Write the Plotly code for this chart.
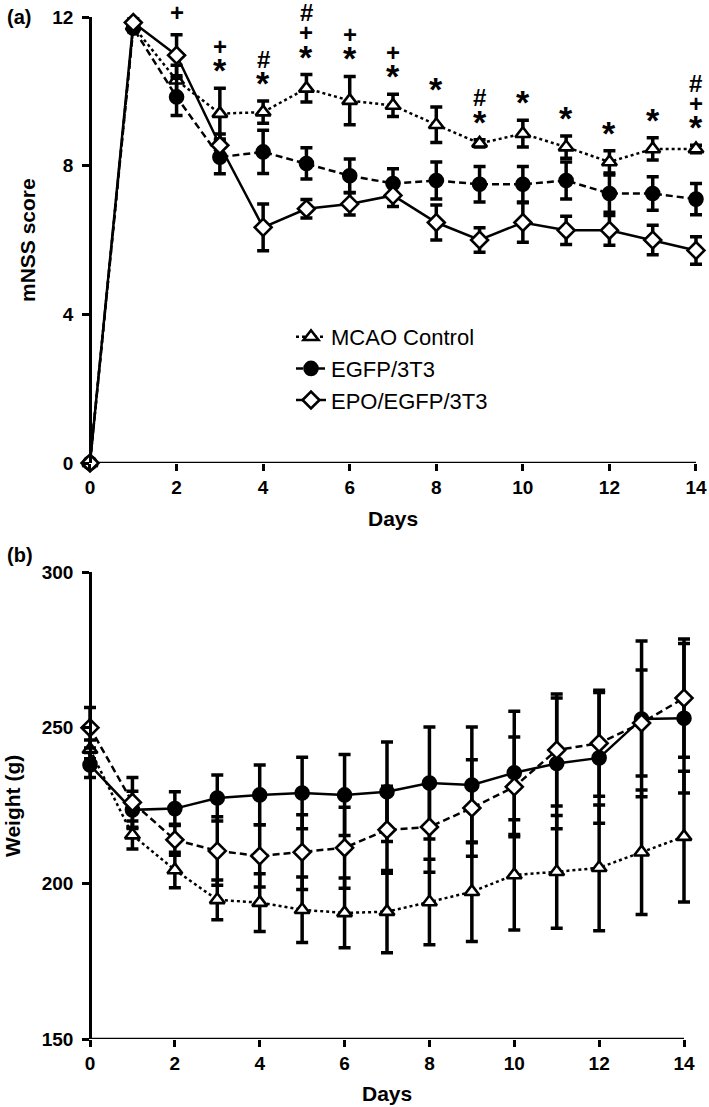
import plotly.graph_objects as go

# ---------------- data ----------------
days = list(range(15))

# Panel (a): mNSS score
mcao_a = [0, 11.75, 10.3, 9.4, 9.44, 10.08, 9.75, 9.62, 9.1, 8.6, 8.86, 8.5, 8.1, 8.45, 8.45]
mcao_a_err = [0, 0.1, 0.4, 0.68, 0.3, 0.37, 0.65, 0.3, 0.48, 0.1, 0.36, 0.3, 0.3, 0.3, 0.1]
egfp_a = [0, 11.7, 9.85, 8.23, 8.37, 8.06, 7.73, 7.52, 7.6, 7.5, 7.5, 7.6, 7.25, 7.25, 7.1]
egfp_a_err = [0, 0.1, 0.5, 0.45, 0.58, 0.42, 0.45, 0.4, 0.5, 0.48, 0.48, 0.5, 0.5, 0.45, 0.42]
epo_a = [0, 11.85, 10.97, 8.55, 6.34, 6.84, 6.97, 7.2, 6.47, 6.0, 6.47, 6.26, 6.26, 6.0, 5.72]
epo_a_err = [0, 0.1, 0.55, 0.3, 0.63, 0.25, 0.3, 0.3, 0.47, 0.33, 0.53, 0.38, 0.4, 0.4, 0.37]

# significance marks (panel a)
star_days = [3, 4, 5, 6, 7, 8, 9, 10, 11, 12, 13, 14]
plus_days = [2, 3, 5, 6, 7, 14]
hash_days = [4, 5, 9, 14]

# Panel (b): weight (g)
mcao_b = [243, 215.5, 204.3, 194.7, 193.8, 191.5, 190.5, 190.9, 194, 197.3, 202.7, 203.7, 205, 210, 215]
mcao_b_err = [3, 4.5, 5.7, 6.4, 9.3, 10.5, 11.2, 13.2, 13.7, 16, 17.7, 18.1, 20.2, 20, 21]
egfp_b = [238, 223.6, 224, 227.4, 228.4, 229, 228.4, 229.4, 232.2, 231.6, 235.5, 238.5, 240.3, 252.8, 253]
egfp_b_err = [4, 6, 5.4, 7.4, 9.6, 11.5, 13, 16, 18, 18.6, 19.8, 21, 21, 25, 24]
epo_b = [250, 226, 214, 210.4, 208.8, 210, 211.4, 217.2, 218.1, 224.2, 231, 242.8, 245, 251.5, 259.5]
epo_b_err = [6.5, 8, 5, 11, 10, 12, 13, 14, 14.5, 15.5, 16, 18, 17, 17, 19]

names = ["MCAO Control", "EGFP/3T3", "EPO/EGFP/3T3"]
x_ticks = [0, 2, 4, 6, 8, 10, 12, 14]
x_min, x_max = 0, 14
y_range_a = [0, 12]
y_range_b = [150, 300]
y_ticks_a = [0, 4, 8, 12]
y_ticks_b = [150, 200, 250, 300]

# ---------------- figure ----------------
W, H = 709, 1107
FONT = "Liberation Sans, Arial, Helvetica, sans-serif"
PAD = 0.25  # extra data room at both x ends so end error bars are not clipped
fig = go.Figure()


def add_series(y, err, name, symbol, fill, dash, xa, ya, showlegend):
    fig.add_trace(go.Scatter(
        x=days, y=y, name=name, mode="lines+markers",
        xaxis=xa, yaxis=ya, showlegend=showlegend, cliponaxis=False,
        line=dict(color="black", width=2.5, dash=dash),
        marker=dict(symbol=symbol, size=13, color=fill,
                    line=dict(color="black", width=2.6)),
        error_y=dict(type="data", array=err, visible=True, color="black",
                     thickness=3.5, width=6),
    ))


# panel a
add_series(mcao_a, mcao_a_err, names[0], "triangle-up", "white", "dot", "x", "y", True)
add_series(egfp_a, egfp_a_err, names[1], "circle", "black", "7px,4px", "x", "y", True)
add_series(epo_a, epo_a_err, names[2], "diamond", "white", "solid", "x", "y", True)
# panel b
add_series(mcao_b, mcao_b_err, names[0], "triangle-up", "white", "dot", "x2", "y2", False)
add_series(egfp_b, egfp_b_err, names[1], "circle", "black", "solid", "x2", "y2", False)
add_series(epo_b, epo_b_err, names[2], "diamond", "white", "7px,4px", "x2", "y2", False)


def px_x(p):
    return p / W


def px_y(p):
    return 1 - p / H


def x_domain(left_px, right_px):
    per = (right_px - left_px) / (x_max - x_min)
    return [px_x(left_px - PAD * per), px_x(right_px + PAD * per)]


tick_font = dict(family=FONT, size=19, color="black", weight="bold")
axis_common = dict(
    ticks="outside", ticklen=7, tickwidth=2.5, tickcolor="black",
    showgrid=False, zeroline=False, fixedrange=True, automargin=False,
    tickfont=tick_font,
)

fig.update_layout(
    width=W, height=H,
    margin=dict(l=0, r=0, t=0, b=0, autoexpand=False),
    paper_bgcolor="white", plot_bgcolor="white",
    xaxis=dict(domain=x_domain(90, 696), range=[x_min - PAD, x_max + PAD], anchor="y",
               tickvals=x_ticks, showline=False, **axis_common),
    yaxis=dict(domain=[px_y(463), px_y(17)], range=y_range_a, anchor="free",
               position=px_x(90), tickvals=y_ticks_a, ticklabelstandoff=5,
               showline=True, linecolor="black", linewidth=2.5, **axis_common),
    xaxis2=dict(domain=x_domain(90, 684), range=[x_min - PAD, x_max + PAD], anchor="y2",
                tickvals=x_ticks, showline=False, **axis_common),
    yaxis2=dict(domain=[px_y(1039), px_y(572)], range=y_range_b, anchor="free",
                position=px_x(90), tickvals=y_ticks_b, ticklabelstandoff=5,
                showline=True, linecolor="black", linewidth=2.5, **axis_common),
    legend=dict(x=px_x(291), y=px_y(316), xanchor="left", yanchor="top",
                font=dict(family=FONT, size=22, color="black"),
                bgcolor="rgba(0,0,0,0)", tracegroupgap=0, itemwidth=30),
    showlegend=True,
    shapes=[
        dict(type="line", xref="x", yref="y", x0=x_min, x1=x_max,
             y0=y_range_a[0], y1=y_range_a[0], line=dict(color="black", width=2.5), layer="below"),
        dict(type="line", xref="x2", yref="y2", x0=x_min, x1=x_max,
             y0=y_range_b[0], y1=y_range_b[0], line=dict(color="black", width=2.5), layer="below"),
    ],
)

annotations = []


def paper_text(text, x, y, size, angle=0, xanchor="center"):
    annotations.append(dict(
        text=text, x=px_x(x), y=px_y(y), xref="paper", yref="paper",
        showarrow=False, textangle=angle, xanchor=xanchor, yanchor="middle",
        font=dict(family=FONT, size=size, color="black"),
    ))


paper_text("<b>(a)</b>", 5, 17, 20, xanchor="left")
paper_text("<b>(b)</b>", 5, 555, 20, xanchor="left")
paper_text("<b>mNSS score</b>", 27, 240, 21, angle=-90)
paper_text("<b>Weight (g)</b>", 12, 806, 21, angle=-90)
paper_text("<b>Days</b>", 393, 518, 21)
paper_text("<b>Days</b>", 387, 1093, 21)

# significance marks stacked above the highest error bar of each day
for d in days:
    syms = []
    if d in star_days:
        syms.append("*")
    if d in plus_days:
        syms.append("+")
    if d in hash_days:
        syms.append("#")
    if not syms:
        continue
    top = max(mcao_a[d] + mcao_a_err[d], egfp_a[d] + egfp_a_err[d], epo_a[d] + epo_a_err[d])
    for k, s in enumerate(syms):
        shift = 22 + 20 * k
        size = 24
        if s == "*":
            size = 34
            shift -= 4
        annotations.append(dict(
            text="<b>%s</b>" % s, x=d, y=top, xref="x", yref="y", showarrow=False,
            xanchor="center", yanchor="middle", yshift=shift,
            font=dict(family=FONT, size=size, color="black"),
        ))

fig.update_layout(annotations=annotations)

fig.write_html("out.html", config={"displayModeBar": False},
               post_script="document.body.style.margin='0px';")
